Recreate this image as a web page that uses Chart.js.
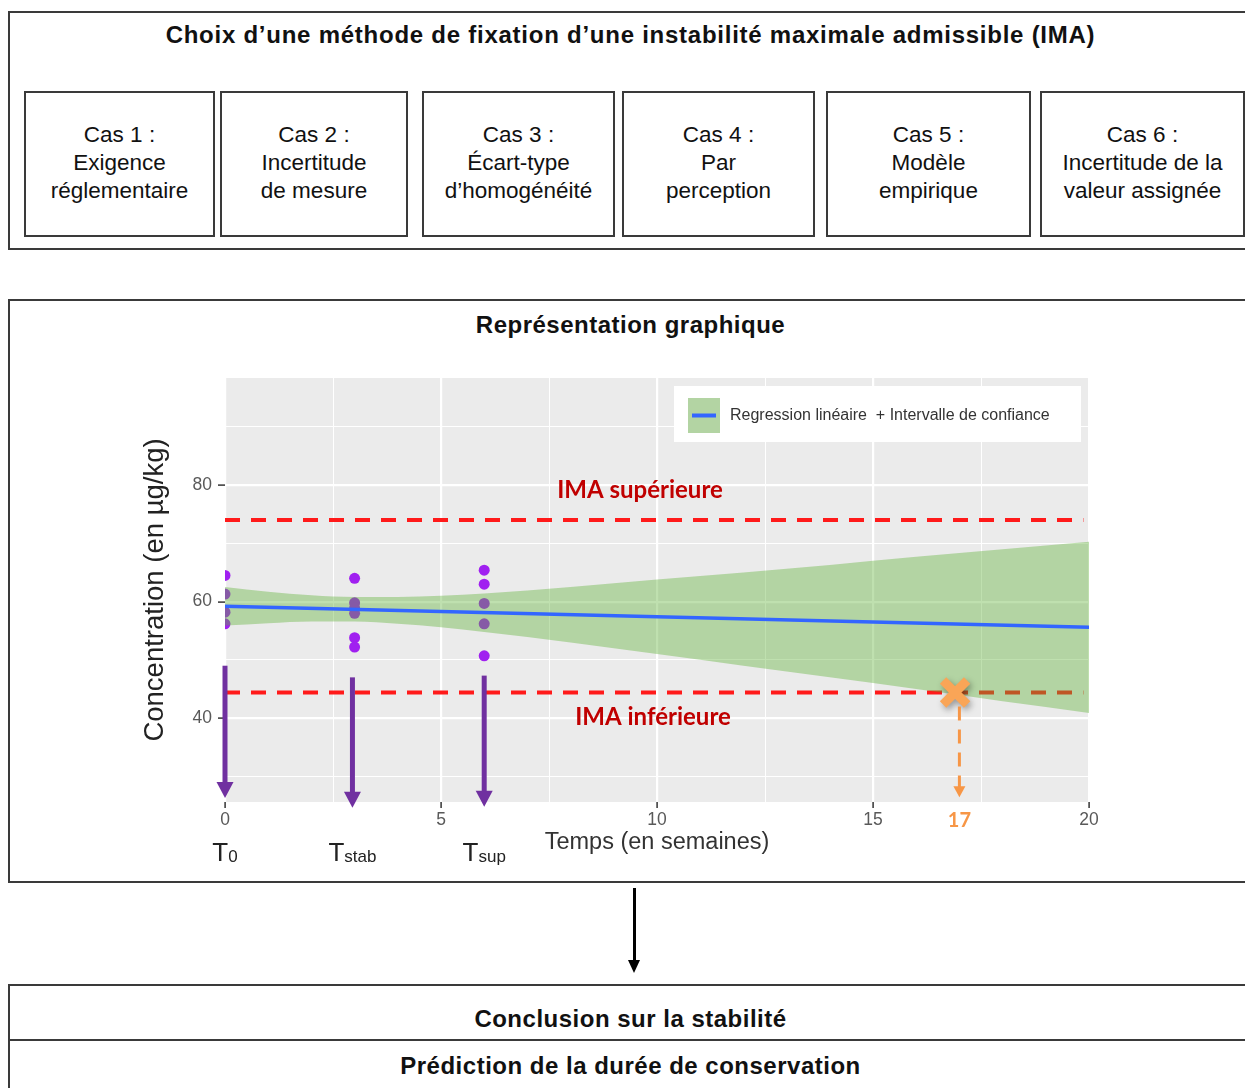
<!DOCTYPE html>
<html lang="fr">
<head>
<meta charset="utf-8">
<title>Choix d’une méthode de fixation d’une IMA</title>
<script src="https://cdn.jsdelivr.net/npm/chart.js@4"></script>
<style>
  html, body { margin: 0; padding: 0; background: #fff; }
  body { width: 1245px; height: 1088px; position: relative; overflow: hidden;
         font-family: "Liberation Sans", Arial, sans-serif; color: #111; }
  .frame { position: absolute; border: 2px solid #3a3a3a; box-sizing: border-box; }
  .head { position: absolute; left: 8px; width: 1245px; text-align: center;
          font-weight: bold; font-size: 24px; line-height: 28px; letter-spacing: 0.5px; }
  .case { position: absolute; top: 91px; height: 146px; border: 2px solid #3a3a3a; box-sizing: border-box;
          display: flex; flex-direction: column; justify-content: center; align-items: center;
          padding-bottom: 3px; font-size: 22.5px; line-height: 28px; text-align: center; }
  #chart { position: absolute; left: 0; top: 0; pointer-events: none; }
</style>
</head>
<body>

<div class="frame" style="left:8px; top:11px; width:1250px; height:239px;"></div>
<div class="head" style="top:21px; letter-spacing:0.75px;">Choix d’une méthode de fixation d’une instabilité maximale admissible (IMA)</div>
<div class="case" style="left:24px; width:191px;"><div>Cas 1&nbsp;:</div><div>Exigence</div><div>réglementaire</div></div>
<div class="case" style="left:220px; width:188px;"><div>Cas 2&nbsp;:</div><div>Incertitude</div><div>de mesure</div></div>
<div class="case" style="left:422px; width:193px;"><div>Cas 3&nbsp;:</div><div>Écart-type</div><div>d’homogénéité</div></div>
<div class="case" style="left:622px; width:193px;"><div>Cas 4&nbsp;:</div><div>Par</div><div>perception</div></div>
<div class="case" style="left:826px; width:205px;"><div>Cas 5&nbsp;:</div><div>Modèle</div><div>empirique</div></div>
<div class="case" style="left:1040px; width:205px;"><div>Cas 6&nbsp;:</div><div>Incertitude de la</div><div>valeur assignée</div></div>

<div class="frame" style="left:8px; top:299px; width:1250px; height:584px;"></div>
<div class="head" style="top:311px;">Représentation graphique</div>

<div style="position:absolute; left:633px; top:888px; width:3px; height:74px; background:#000;"></div>
<div style="position:absolute; left:628px; top:960px; width:0; height:0; border-left:6.5px solid transparent; border-right:6.5px solid transparent; border-top:13px solid #000;"></div>

<div class="frame" style="left:8px; top:984px; width:1250px; height:130px;"></div>
<div style="position:absolute; left:8px; top:1039px; width:1250px; height:2px; background:#3a3a3a;"></div>
<div class="head" style="top:1005px;">Conclusion sur la stabilité</div>
<div class="head" style="top:1052px;">Prédiction de la durée de conservation</div>

<canvas id="chart" width="1245" height="1088"></canvas>

<script>
// axis ticks
var xTicksMajor = [0, 5, 10, 15, 20];
var xTicksMinor = [2.5, 7.5, 12.5, 17.5];
var yTicksMajor = [40, 60, 80];
var yTicksMinor = [30, 50, 70, 90];

// measured concentrations
var sampleTimes = [0, 0, 0, 0, 3, 3, 3, 3, 3, 3, 6, 6, 6, 6, 6];
var sampleConc  = [64.5, 61.3, 58.2, 56.2, 64.0, 59.8, 58.9, 58.0, 53.8, 52.2, 65.4, 63.0, 59.7, 56.2, 50.7];

// regression line
var regTimes = [0, 20];
var regConc  = [59.2, 55.6];

// confidence band
var bandTimes = [0, 1, 2, 3, 4, 5, 6, 8, 10, 12, 14, 16, 18, 20];
var bandUpper = [62.5, 61.7, 61.1, 60.8, 60.8, 61.0, 61.4, 62.5, 63.8, 65.0, 66.3, 67.7, 69.0, 70.3];
var bandLower = [55.9, 56.3, 56.6, 56.6, 56.2, 55.6, 54.8, 53.0, 51.0, 49.0, 47.0, 45.0, 42.9, 40.9];

// IMA limits
var imaUpper = 74.0;
var imaLower = 44.4;

// sampling times arrows (T0, Tstab, Tsup)
var arrowTimes = [0, 2.95, 6];
var arrowFrom  = [49.0, 47.0, 47.3];
var arrowTo    = [26.3, 24.6, 24.8];
var arrowSubs  = ['0', 'stab', 'sup'];

// crossing of the band with the lower IMA -> shelf life
var crossTime = 16.9;
var crossConc = 44.4;
var shelfLife = 17;
var shelfFrom = 42.0;
var shelfTo   = 26.4;

var AREA = { left: 225, right: 1089, top: 378, bottom: 802 };
var Y_AXIS_W = 90, X_AXIS_H = 55;
var BASE_FONT = '"Liberation Sans", Arial, sans-serif';

Chart.defaults.font.family = BASE_FONT;

function pts(xs, ys) {
  return xs.map(function (x, i) { return { x: x, y: ys[i] }; });
}
function isMajor(list, v) { return list.indexOf(v) !== -1; }

function drawArrow(ctx, x, y0, y1, color, width, headW, headH, dash) {
  ctx.save();
  ctx.strokeStyle = color;
  ctx.fillStyle = color;
  ctx.lineWidth = width;
  if (dash) ctx.setLineDash(dash);
  ctx.beginPath();
  ctx.moveTo(x, y0);
  ctx.lineTo(x, y1 - headH + 1);
  ctx.stroke();
  ctx.setLineDash([]);
  ctx.beginPath();
  ctx.moveTo(x - headW / 2, y1 - headH);
  ctx.lineTo(x + headW / 2, y1 - headH);
  ctx.lineTo(x, y1);
  ctx.closePath();
  ctx.fill();
  ctx.restore();
}

var panelBg = {
  id: 'panelBg',
  beforeDraw: function (chart) {
    var a = chart.chartArea, ctx = chart.ctx;
    ctx.save();
    ctx.fillStyle = '#ebebeb';
    ctx.fillRect(a.left, a.top, a.right - a.left, a.bottom - a.top);
    ctx.restore();
  }
};

var crossShadow = {
  id: 'crossShadow',
  beforeDatasetDraw: function (chart, args) {
    if (args.meta._dataset.label !== 'cross') return;
    var ctx = chart.ctx;
    ctx.save();
    ctx.shadowColor = 'rgba(0,0,0,0.35)';
    ctx.shadowBlur = 6;
    ctx.shadowOffsetX = 2;
    ctx.shadowOffsetY = 3;
  },
  afterDatasetDraw: function (chart, args) {
    if (args.meta._dataset.label !== 'cross') return;
    chart.ctx.restore();
  }
};

var notes = {
  id: 'notes',
  afterDatasetsDraw: function (chart) {
    var ctx = chart.ctx, xs = chart.scales.x, ys = chart.scales.y, a = chart.chartArea;
    var midX = (a.left + a.right) / 2;

    // IMA labels
    ctx.save();
    ctx.font = 'bold 24px Lato, "Open Sans", sans-serif';
    ctx.fillStyle = '#c00000';
    ctx.textAlign = 'center';
    ctx.textBaseline = 'middle';
    ctx.fillText('IMA supérieure', midX - 17, ys.getPixelForValue(imaUpper) - 30);
    ctx.fillText('IMA inférieure', midX - 4, ys.getPixelForValue(imaLower) + 25);
    ctx.restore();

    // sampling arrows and T labels
    arrowTimes.forEach(function (t, i) {
      var px = xs.getPixelForValue(t);
      drawArrow(ctx, px, ys.getPixelForValue(arrowFrom[i]), ys.getPixelForValue(arrowTo[i]),
        '#7030a0', 5, 17, 16);
      ctx.save();
      ctx.fillStyle = '#222';
      ctx.textBaseline = 'alphabetic';
      ctx.font = '26px ' + BASE_FONT;
      var wT = ctx.measureText('T').width;
      ctx.font = '17px ' + BASE_FONT;
      var wS = ctx.measureText(arrowSubs[i]).width;
      var x0 = px - (wT + wS) / 2;
      ctx.font = '26px ' + BASE_FONT;
      ctx.fillText('T', x0, 861);
      ctx.font = '17px ' + BASE_FONT;
      ctx.fillText(arrowSubs[i], x0 + wT, 862);
      ctx.restore();
    });

    // shelf life arrow
    var sx = xs.getPixelForValue(shelfLife);
    drawArrow(ctx, sx, ys.getPixelForValue(shelfFrom), ys.getPixelForValue(shelfTo),
      '#f79646', 3, 12, 11, [14, 9]);
    ctx.save();
    ctx.font = 'bold 20px Lato, "Open Sans", sans-serif';
    ctx.fillStyle = '#f79646';
    ctx.textAlign = 'center';
    ctx.textBaseline = 'middle';
    ctx.fillText(String(shelfLife), sx, a.bottom + 19);
    ctx.restore();

    // legend
    var bw = 407, bh = 56;
    var bx = a.right - 8 - bw, by = a.top + 8;
    ctx.save();
    ctx.fillStyle = '#ffffff';
    ctx.fillRect(bx, by, bw, bh);
    ctx.fillStyle = '#b3d4a3';
    ctx.fillRect(bx + 14, by + 12, 32, 35);
    ctx.strokeStyle = '#3366ff';
    ctx.lineWidth = 4;
    ctx.beginPath();
    ctx.moveTo(bx + 18, by + 29.5);
    ctx.lineTo(bx + 42, by + 29.5);
    ctx.stroke();
    ctx.fillStyle = '#333';
    ctx.font = '16px ' + BASE_FONT;
    ctx.textBaseline = 'middle';
    ctx.fillText('Regression linéaire  + Intervalle de confiance', bx + 56, by + 30);
    ctx.restore();
  }
};

var bandFill = 'rgba(95,177,55,0.4)';

var chart = new Chart(document.getElementById('chart'), {
  type: 'scatter',
  data: {
    datasets: [
      {
        label: 'cross',
        data: [{ x: crossTime, y: crossConc }],
        pointStyle: 'crossRot',
        pointRadius: 17,
        pointBorderWidth: 9,
        pointBorderColor: '#f9a557',
        pointBackgroundColor: '#f9a557',
        order: -1
      },
      {
        type: 'line',
        label: 'regression',
        data: pts(regTimes, regConc),
        borderColor: '#3366ff',
        borderWidth: 3.5,
        pointRadius: 0,
        fill: false,
        order: 0
      },
      {
        type: 'line',
        label: 'band low',
        data: pts(bandTimes, bandLower),
        borderColor: 'rgba(0,0,0,0)',
        borderWidth: 1,
        pointRadius: 0,
        cubicInterpolationMode: 'monotone',
        fill: false,
        order: 2
      },
      {
        type: 'line',
        label: 'band high',
        data: pts(bandTimes, bandUpper),
        borderColor: 'rgba(0,0,0,0)',
        borderWidth: 1,
        backgroundColor: bandFill,
        pointRadius: 0,
        cubicInterpolationMode: 'monotone',
        fill: '-1',
        order: 1
      },
      {
        type: 'line',
        label: 'IMA sup',
        data: pts([0, 19.87], [imaUpper, imaUpper]),
        borderColor: '#ff1a1a',
        borderWidth: 4,
        borderDash: [15, 11],
        pointRadius: 0,
        fill: false,
        order: 3
      },
      {
        type: 'line',
        label: 'IMA inf',
        data: pts([0, 19.87], [imaLower, imaLower]),
        borderColor: '#ff1a1a',
        borderWidth: 4,
        borderDash: [15, 11],
        pointRadius: 0,
        fill: false,
        order: 3
      },
      {
        label: 'mesures',
        data: pts(sampleTimes, sampleConc),
        pointRadius: 5.5,
        pointBorderWidth: 0,
        pointBackgroundColor: '#a020f0',
        clip: 0,
        order: 4
      }
    ]
  },
  options: {
    responsive: false,
    animation: false,
    events: [],
    layout: {
      padding: {
        left: AREA.left - Y_AXIS_W,
        right: 1245 - AREA.right,
        top: AREA.top,
        bottom: 1088 - AREA.bottom - X_AXIS_H
      }
    },
    plugins: {
      legend: { display: false },
      tooltip: { enabled: false }
    },
    scales: {
      x: {
        type: 'linear',
        min: 0,
        max: 20,
        afterBuildTicks: function (s) {
          s.ticks = xTicksMajor.concat(xTicksMinor).sort(function (p, q) { return p - q; })
            .map(function (v) { return { value: v }; });
        },
        afterFit: function (s) { s.height = X_AXIS_H; },
        border: { display: false },
        grid: {
          color: '#ffffff',
          lineWidth: function (c) { return c.tick && isMajor(xTicksMajor, c.tick.value) ? 2.2 : 1; },
          tickColor: function (c) { return c.tick && isMajor(xTicksMajor, c.tick.value) ? '#333' : 'rgba(0,0,0,0)'; },
          tickWidth: 1.5,
          tickLength: 6
        },
        ticks: {
          autoSkip: false,
          maxRotation: 0,
          padding: 2,
          color: '#595959',
          font: { size: 17.5 },
          callback: function (v) { return isMajor(xTicksMajor, v) ? String(v) : ''; }
        },
        title: {
          display: true,
          text: 'Temps (en semaines)',
          color: '#333',
          font: { size: 23.5 },
          padding: { top: 0, bottom: 0 }
        }
      },
      y: {
        type: 'linear',
        min: 25.6,
        max: 98.4,
        afterBuildTicks: function (s) {
          s.ticks = yTicksMajor.concat(yTicksMinor).sort(function (p, q) { return p - q; })
            .map(function (v) { return { value: v }; });
        },
        afterFit: function (s) { s.width = Y_AXIS_W; },
        border: { display: false },
        grid: {
          color: '#ffffff',
          lineWidth: function (c) { return c.tick && isMajor(yTicksMajor, c.tick.value) ? 2.2 : 1; },
          tickColor: function (c) { return c.tick && isMajor(yTicksMajor, c.tick.value) ? '#333' : 'rgba(0,0,0,0)'; },
          tickWidth: 1.5,
          tickLength: 7
        },
        ticks: {
          autoSkip: false,
          padding: 6,
          color: '#595959',
          font: { size: 17.5 },
          callback: function (v) { return isMajor(yTicksMajor, v) ? String(v) : ''; }
        },
        title: {
          display: true,
          text: 'Concentration (en µg/kg)',
          color: '#222',
          font: { size: 27.5 },
          padding: { top: 4, bottom: 0 }
        }
      }
    }
  },
  plugins: [panelBg, crossShadow, notes]
});
</script>
</body>
</html>
